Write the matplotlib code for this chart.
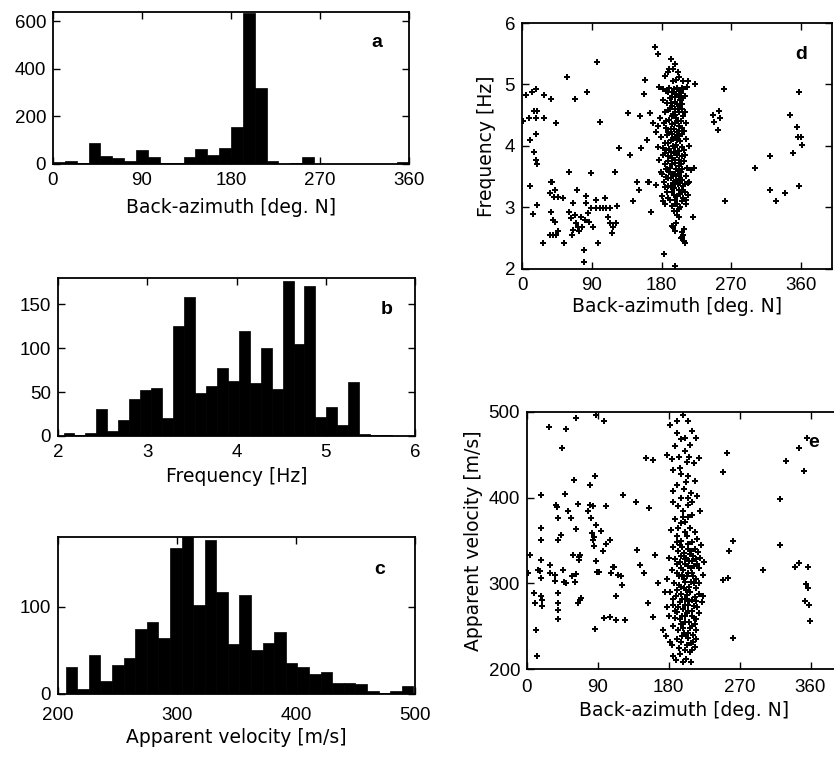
import numpy as np
import matplotlib
matplotlib.use("Agg")
import matplotlib.pyplot as plt

plt.rcParams['font.family'] = ['Liberation Sans', 'DejaVu Sans']
plt.rcParams['font.size'] = 13.5

# ---------------- data ----------------
# (a) back-azimuth histogram, 30 bins of 12 deg from 0 to 360
baz_edges_range = (0, 360)
baz_counts = [8, 14, 3, 88, 32, 25, 14, 60, 31, 4, 6, 29, 62, 38, 67,
              157, 635, 320, 14, 2, 5, 29, 2, 1, 1, 1, 1, 1, 1, 7]

# (b) frequency histogram, 30 bins
freq_edges_range = (2.062, 5.743)
freq_counts = [3, 1, 3, 31, 6, 18, 42, 52, 55, 21, 125, 158, 49, 57, 78,
               63, 120, 60, 100, 54, 177, 105, 171, 22, 33, 12, 61, 2, 1, 1]

# (c) apparent velocity histogram, 30 bins
vel_edges_range = (206.4, 498.6)
vel_counts = [31, 6, 45, 15, 33, 41, 75, 83, 64, 167, 182, 102, 177, 117, 57,
              114, 50, 59, 71, 36, 31, 23, 25, 13, 13, 12, 4, 1, 4, 9]

# (d) back-azimuth vs frequency
d_sparse = [(1, 4.4), (4.7, 4.83), (9, 4.45), (10, 4.1), (10.7, 3.35), (13.3, 4.88),
            (14, 2.9), (15.5, 4.57), (16, 3.9), (17.6, 4.45), (18.5, 4.93), (18.5, 4.2),
            (18.5, 3.77), (19.3, 3.7), (19.8, 4.57), (19.8, 3.04), (27, 2.42), (29, 4.83),
            (29, 4.45), (37, 4.77), (37, 3.42), (39, 3.42), (35.6, 3.23), (37.8, 2.92),
            (41, 3.17), (43, 3.29), (44, 4.38), (47, 3.17), (53, 3.15), (40, 2.8),
            (42, 2.77), (35.6, 2.56), (40, 2.56), (44, 2.56), (47, 2.61), (54, 2.43),
            (58, 5.12), (60, 2.92), (61, 3.58), (62.7, 2.83), (65.7, 2.64), (65, 2.56),
            (65.7, 3.07), (68, 2.88), (69, 4.77), (70, 2.75), (71, 3.29), (72, 2.69),
            (73.5, 2.61), (76.5, 2.85), (77.7, 2.69), (79.5, 2.31), (80, 2.12), (80.8, 2.8),
            (82, 3.18), (82, 3.07), (83.8, 4.88), (85, 2.91), (86.3, 2.77), (88.5, 2.99),
            (89.3, 3.56), (91.5, 2.68), (95, 3.12), (95, 2.99), (96.6, 5.37), (98, 2.42),
            (100, 4.39), (100, 2.99), (104, 2.99), (106.5, 3.15), (108.7, 2.99), (111, 2.85),
            (113, 2.99), (114, 2.75), (116.4, 2.58), (117, 2.69), (119.4, 3.58), (121.6, 2.75),
            (123, 3.03), (125, 3.96), (137, 4.53), (139.6, 3.85), (143, 3.11), (148, 3.42),
            (151.6, 3.29), (152.5, 4.48), (154, 3.96), (157, 4.84), (159, 5.07), (161, 4.1),
            (162, 3.42), (164.5, 3.42), (166.7, 2.92), (165.8, 4.53), (172, 5.61), (175.7, 5.5),
            (223.8, 5.0), (246, 4.5), (247.4, 4.39), (254, 4.57), (256, 4.45), (252.6, 4.26),
            (261, 4.93), (262, 3.11), (300, 3.64), (320, 3.83), (320, 3.29), (327.7, 3.11),
            (339, 3.23), (345.8, 4.5), (350, 3.88), (354.4, 4.31), (356, 4.15), (357, 4.88),
            (357.8, 3.35), (360, 4.15), (361, 4.02)]
d_cluster = [(192.5, 5.42), (197, 5.34), (190, 5.26), (194.6, 5.26), (184, 5.14), (188, 5.2),
             (201, 5.2), (207.5, 5.06), (214, 5.06), (177, 4.96), (181.7, 4.93), (212.6, 4.96),
             (199, 5.08), (203, 5.12), (195, 5.05), (186, 4.9), (190, 4.95), (193, 4.88),
             (196, 4.92), (199, 4.85), (202, 4.9), (205, 4.86), (208, 4.93), (203, 4.82),
             (197, 4.8), (210, 4.82), (200, 4.95), (182, 4.75), (187, 4.7), (191, 4.78),
             (194, 4.65), (198, 4.72), (201, 4.6), (204, 4.75), (207, 4.68), (210, 4.55),
             (189, 4.58), (195, 4.52), (200, 4.68), (206, 4.6), (185, 4.55), (197, 4.6),
             (203, 4.55), (192, 4.7), (208, 4.78), (178, 4.45), (183, 4.38), (186, 4.3),
             (190, 4.42), (193, 4.35), (196, 4.28), (199, 4.45), (202, 4.33), (205, 4.4),
             (209, 4.25), (212, 4.38), (188, 4.22), (194, 4.48), (200, 4.22), (207, 4.3),
             (176, 4.32), (197, 4.38), (203, 4.25), (179, 4.15), (184, 4.05), (187, 4.18),
             (190, 3.95), (192, 4.1), (195, 4.0), (198, 4.15), (201, 3.92), (204, 4.08),
             (207, 3.98), (211, 4.12), (215, 4.0), (186, 3.93), (193, 4.2), (199, 4.02),
             (203, 4.17), (196, 3.9), (209, 3.93), (182, 3.97), (177, 3.78), (182, 3.85),
             (185, 3.7), (188, 3.83), (191, 3.65), (194, 3.8), (197, 3.72), (200, 3.86),
             (203, 3.68), (206, 3.83), (209, 3.75), (213, 3.65), (187, 3.62), (196, 3.88),
             (202, 3.78), (189, 3.75), (199, 3.62), (205, 3.7), (180, 3.55), (183, 3.42),
             (186, 3.5), (189, 3.35), (192, 3.48), (195, 3.4), (198, 3.55), (201, 3.38),
             (204, 3.47), (208, 3.35), (211, 3.52), (214, 3.4), (190, 3.58), (199, 3.45),
             (205, 3.58), (184, 3.33), (196, 3.32), (202, 3.52), (218, 3.61), (222.5, 3.64),
             (215, 3.42), (181, 3.18), (182, 3.1), (187, 3.25), (191, 3.12), (196, 3.2),
             (200, 3.05), (204, 3.22), (208, 3.15), (211, 3.05), (193, 3.02), (202, 3.28),
             (206, 3.1), (214, 3.2), (185, 3.05), (198, 3.12), (210, 3.25), (196, 2.95),
             (199, 2.75), (203, 2.85), (206, 2.6), (208, 2.55), (194, 2.7), (195.4, 2.68),
             (209, 2.45), (210, 2.42), (205, 2.5), (200, 2.88), (197, 2.62), (220, 2.85),
             (183.8, 2.25), (197.6, 2.05), (202, 2.98), (169, 4.37), (173, 4.23), (175, 3.99),
             (177, 3.77), (179.5, 3.58), (173, 3.37),
             (188, 4.88), (194, 4.8), (206, 4.95), (191, 4.6), (204, 4.65), (198, 4.5),
             (186, 4.4), (192, 4.28), (201, 4.4), (208, 4.48), (195, 4.12), (189, 4.05),
             (206, 4.2), (200, 4.1), (197, 3.98), (192, 3.9), (184, 3.88), (210, 3.85),
             (203, 3.92), (198, 3.78), (193, 3.7), (207, 3.62), (186, 3.62), (201, 3.6),
             (195, 3.55), (189, 3.48), (206, 3.45), (198, 3.38), (192, 3.33), (203, 3.4),
             (210, 3.38), (194, 3.25), (200, 3.18), (189, 3.15), (207, 3.28), (212, 3.12),
             (197, 3.05), (204, 3.0), (200, 2.95), (209, 2.65), (207, 2.52)]

# (e) back-azimuth vs apparent velocity
e_sparse = [(4.2, 333), (1, 312), (8.9, 288.5), (9.7, 277), (11.8, 245), (13, 215),
            (14, 316), (16, 314), (17.3, 403), (17.3, 365), (18.2, 351), (18.2, 327),
            (18.2, 306), (18.2, 285), (19, 281), (19, 273), (28.8, 321.5), (28.8, 312.6),
            (35, 310), (35, 303), (37, 391), (38, 389.5), (39.3, 376), (39.3, 351),
            (39.3, 288.5), (39.3, 277), (39.3, 269), (39.3, 258.6), (43.6, 356.5), (44.4, 457.5),
            (45.7, 315.7), (46.5, 302), (48.2, 404), (49, 300), (52, 385), (55.4, 376),
            (57.5, 308), (58.4, 333), (59.6, 421), (60.5, 302), (62.6, 311), (62.6, 364),
            (64.7, 393), (64.7, 277), (66, 331), (66, 327), (66.8, 281), (69, 283),
            (66.8, 333), (77.4, 384), (79.5, 391.5), (80.3, 415), (81.6, 376), (82.9, 358.5),
            (83.8, 390), (83.8, 350.7), (86, 425), (84.6, 354.6), (84.6, 343), (86.7, 246.6),
            (88, 368), (88, 325.5), (88.8, 313.8), (91.4, 313.8), (94.3, 361.5), (96.4, 338),
            (97.7, 259.4), (99.8, 390), (100.7, 346), (104.9, 261), (105.8, 351), (107, 312),
            (109, 319.6), (111, 318.8), (113.4, 285), (113.4, 257.5), (115.5, 310), (119.7, 308),
            (121, 297.5), (121.8, 403), (124, 257.5), (138.8, 395), (140, 339), (143, 321.5),
            (149, 312), (153.6, 277), (155, 387.6), (151.4, 446), (160, 444), (160, 261),
            (162, 333), (166, 300), (50, 480), (62, 493), (88, 497), (98, 490), (28, 482),
            (248.7, 430), (253.8, 452), (261.4, 350), (256, 338), (255, 306), (248.7, 304),
            (261.4, 236), (299.5, 315.7), (321.5, 399), (321.5, 345), (329, 443),
            (340.5, 318.8), (346, 323.5), (346, 457.5), (351.5, 431.5), (354.5, 299),
            (356.6, 318.8), (356.6, 295), (353.6, 279), (357.9, 275), (359.6, 255.5), (356, 470)]
e_cluster = [(182, 485), (190, 475), (198, 497), (205, 490), (210, 478), (195, 468), (215, 470),
             (188, 460), (200, 455), (207, 462), (178, 450), (184, 445), (193, 448), (203, 442),
             (212, 440), (219, 446), (186, 432), (196, 428), (205, 425), (213, 420), (190, 415),
             (199, 410), (208, 405), (216, 402), (220, 385), (186, 408), (185, 395), (192, 390),
             (198, 385), (204, 392), (210, 380), (188, 375), (195, 370), (201, 372), (207, 365),
             (213, 360), (183, 362), (190, 355), (196, 350), (203, 355), (209, 348), (216, 352),
             (221, 345), (186, 342), (192, 338), (199, 335), (205, 340), (211, 332), (217, 336),
             (180, 330), (188, 328), (194, 325), (200, 322), (206, 326), (212, 320), (218, 318),
             (184, 315), (190, 312), (197, 310), (203, 308), (209, 312), (215, 305), (223, 310),
             (187, 300), (193, 298), (200, 302), (206, 296), (212, 300), (178, 305), (196, 318),
             (202, 330), (208, 318), (194, 345), (200, 360), (205, 378), (214, 328), (225, 325),
             (182, 290), (189, 285), (195, 288), (201, 282), (207, 290), (213, 284), (219, 288),
             (185, 275), (192, 272), (198, 270), (204, 275), (210, 268), (216, 272), (180, 262),
             (188, 260), (194, 258), (200, 262), (206, 255), (212, 260), (218, 265), (186, 250),
             (192, 245), (198, 248), (204, 242), (210, 250), (215, 245), (190, 235), (196, 232),
             (202, 238), (208, 230), (214, 235), (184, 228), (193, 225), (200, 222), (207, 220),
             (213, 226), (185, 215), (189, 210), (198, 208), (208, 208), (175, 290), (178, 272),
             (173, 245), (176, 238), (181, 232), (222, 278), (224, 285), (199, 295), (205, 268),
             (211, 240),
             (191, 348), (197, 342), (204, 346), (208, 338), (195, 332), (201, 328), (207, 334),
             (213, 340), (190, 322), (198, 316), (204, 320), (210, 326), (216, 322), (193, 308),
             (199, 305), (205, 312), (211, 308), (196, 296), (202, 292), (208, 302), (214, 295),
             (190, 292), (197, 282), (203, 286), (209, 280), (215, 279), (194, 278), (200, 275),
             (206, 279), (212, 274), (191, 266), (197, 262), (203, 265), (209, 262), (215, 258),
             (195, 252), (201, 255), (207, 248), (213, 252), (199, 242), (205, 236), (211, 232),
             (197, 238), (203, 228), (210, 222), (194, 218), (202, 212), (188, 268), (186, 282),
             (218, 300), (220, 330), (192, 365), (198, 378), (204, 400), (196, 400), (210, 395),
             (202, 418), (194, 435), (206, 448), (200, 470), (190, 490)]

# ---------------- drawing ----------------
W, H = 834, 760
fig = plt.figure(figsize=(W / 100, H / 100), dpi=100)
LABEL_FONT = dict(family=['DejaVu Sans'], size=13.5)

def pos(l, t, r, b):
    return [l / W, 1 - b / H, (r - l) / W, (b - t) / H]

def style(ax, xpad=6):
    ax.tick_params(direction='in', top=True, right=True, length=5, width=1,
                   labelsize=13.5)
    ax.tick_params(axis='x', pad=xpad)
    ax.tick_params(axis='y', pad=5)
    for s in ax.spines.values():
        s.set_linewidth(1.3)

def hist_bars(ax, rng, counts):
    edges = np.linspace(rng[0], rng[1], len(counts) + 1)
    ax.bar(edges[:-1], counts, width=np.diff(edges), align='edge',
           color='black', edgecolor='black', linewidth=0.5)

def letter(ax, x, y, s):
    ax.text(x, y, s, transform=ax.transAxes, fontsize=14, fontweight='bold',
            ha='center', va='center')

# a
ax = fig.add_axes(pos(53, 12, 409, 164))
hist_bars(ax, baz_edges_range, baz_counts)
ax.set_xlim(0, 360); ax.set_ylim(0, 638)
ax.set_xticks([0, 90, 180, 270, 360]); ax.set_yticks([0, 200, 400, 600])
ax.set_xlabel('Back-azimuth [deg. N]', labelpad=6, **LABEL_FONT)
letter(ax, 0.91, 0.80, 'a')
style(ax)

# b
ax = fig.add_axes(pos(58, 278, 415, 436))
hist_bars(ax, freq_edges_range, freq_counts)
ax.set_xlim(2, 6); ax.set_ylim(0, 180)
ax.set_xticks([2, 3, 4, 5, 6]); ax.set_yticks([0, 50, 100, 150])
ax.set_xlabel('Frequency [Hz]', labelpad=4, **LABEL_FONT)
letter(ax, 0.92, 0.80, 'b')
style(ax)

# c
ax = fig.add_axes(pos(58, 537, 415, 694))
hist_bars(ax, vel_edges_range, vel_counts)
ax.set_xlim(200, 500); ax.set_ylim(0, 180)
ax.set_xticks([200, 300, 400, 500]); ax.set_yticks([0, 100])
ax.set_xlabel('Apparent velocity [m/s]', labelpad=3, **LABEL_FONT)
letter(ax, 0.90, 0.79, 'c')
style(ax, xpad=9)

# d
ax = fig.add_axes(pos(522, 23, 832, 269))
pts = d_sparse + d_cluster
ax.scatter([p[0] for p in pts], [p[1] for p in pts], s=15, marker='P',
           color='black', linewidths=0)
ax.set_xlim(0, 400); ax.set_ylim(2, 6)
ax.set_xticks([0, 90, 180, 270, 360]); ax.set_yticks([2, 3, 4, 5, 6])
ax.set_xlabel('Back-azimuth [deg. N]', labelpad=2, **LABEL_FONT)
ax.set_ylabel('Frequency [Hz]', labelpad=6, **LABEL_FONT)
letter(ax, 0.90, 0.87, 'd')
style(ax)

# e
ax = fig.add_axes(pos(527, 412, 842, 669))
pts = e_sparse + e_cluster
ax.scatter([p[0] for p in pts], [p[1] for p in pts], s=15, marker='P',
           color='black', linewidths=0)
ax.set_xlim(0, 400); ax.set_ylim(200, 500)
ax.set_xticks([0, 90, 180, 270, 360]); ax.set_yticks([200, 300, 400, 500])
ax.set_xlabel('Back-azimuth [deg. N]', labelpad=4, **LABEL_FONT)
ax.set_ylabel('Apparent velocity [m/s]', labelpad=4, **LABEL_FONT)
letter(ax, 0.91, 0.88, 'e')
style(ax, xpad=7)

fig.savefig('out.png', dpi=100)
